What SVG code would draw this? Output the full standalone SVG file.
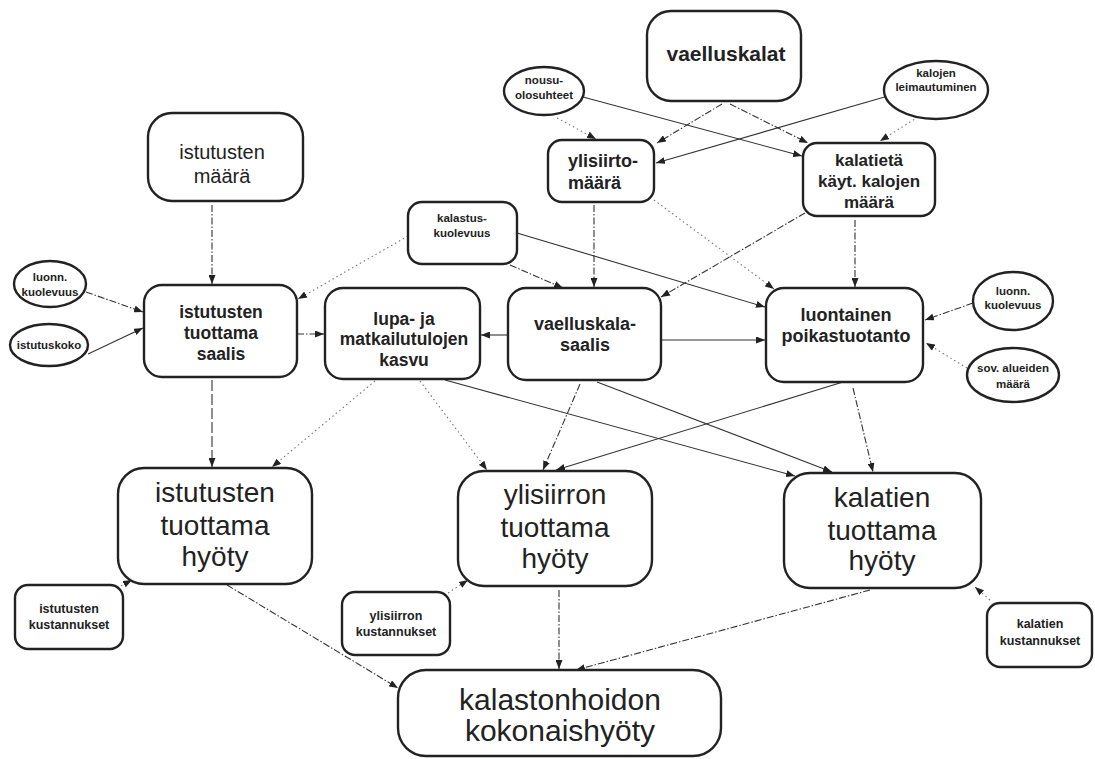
<svg xmlns="http://www.w3.org/2000/svg" width="1095" height="759" viewBox="0 0 1095 759">
<defs>
<marker id="ah" markerWidth="9" markerHeight="7" refX="9" refY="3.5" orient="auto" markerUnits="userSpaceOnUse">
<path d="M0,0 L9,3.5 L0,7 z" fill="#222"/>
</marker>
<style>
.box{fill:#fff;stroke:#222;stroke-width:2.4}
.t{font-family:"Liberation Sans",Arial,sans-serif;fill:#222;text-anchor:middle}
.b{font-weight:bold}
.c{fill:none;stroke:#333;stroke-width:1.1;marker-end:url(#ah)}
.dd{stroke-dasharray:7 2 1.5 2}
.dt{stroke:#777;stroke-dasharray:1.5 3}
.ld{stroke-dasharray:11 3}
</style>
</defs>
<rect width="1095" height="759" fill="#fff"/>

<g id="connectors">
<path class="c dd" d="M212,205 L212,284"/>
<path class="c dd" d="M86,292 L143,312"/>
<path class="c" d="M88,354 L143,328"/>
<path class="c dd" d="M297,334 L324,334"/>
<path class="c dt" d="M408,236 L298,299"/>
<path class="c dd" d="M510,265 L563,288"/>
<path class="c dd" d="M594,205 L594,287"/>
<path class="c" d="M517,233 L765,307"/>
<path class="c" d="M661,340 L765,340"/>
<path class="c" d="M508,335 L481,335"/>
<path class="c dd" d="M805,213 L661,297"/>
<path class="c dd" d="M855,220 L855,287"/>
<path class="c dt" d="M654,200 L774,289"/>
<path class="c dd" d="M973,303 L925,320"/>
<path class="c dt" d="M967,368 L926,343"/>
<path class="c dt" d="M557,118 L596,139"/>
<path class="c" d="M583,97 L802,156"/>
<path class="c dd" d="M722,104 L657,143"/>
<path class="c dd" d="M730,104 L808,143"/>
<path class="c" d="M888,96 L656,163"/>
<path class="c dt" d="M918,117 L880,141"/>
<path class="c ld" d="M212,380 L212,467"/>
<path class="c dt" d="M375,381 L272,467"/>
<path class="c" d="M445,380 L795,476"/>
<path class="c" d="M597,382 L832,472"/>
<path class="c dd" d="M580,384 L543,470"/>
<path class="c" d="M843,382 L556,470"/>
<path class="c dd" d="M853,388 L873,472"/>
<path class="c dt" d="M420,381 L487,470"/>
<path class="c dt" d="M117,588 L132,580"/>
<path class="c dt" d="M448,593 L468,580"/>
<path class="c dt" d="M990,600 L975,587"/>
<path class="c dd" d="M227,585 L398,688"/>
<path class="c dd" d="M559,590 L559,669"/>
<path class="c dd" d="M870,590 L576,670"/>
</g>

<g id="vaelluskalat">
<rect class="box" x="647" y="11" width="154" height="90" rx="24"/>
<text class="t b" x="726" y="61" font-size="21">vaelluskalat</text>
</g>
<g id="nousuolosuhteet">
<ellipse class="box" cx="544" cy="91" rx="40" ry="24"/>
<text class="t b" x="544" y="84" font-size="11.5">nousu-</text>
<text class="t b" x="544" y="99" font-size="11.5">olosuhteet</text>
</g>
<g id="kalojenleimautuminen">
<ellipse class="box" cx="936" cy="90" rx="52" ry="29"/>
<text class="t b" x="936" y="77" font-size="11.5">kalojen</text>
<text class="t b" x="936" y="91" font-size="11.5">leimautuminen</text>
</g>
<g id="ylisiirtomaara">
<rect class="box" x="548" y="140" width="106" height="62" rx="14"/>
<text class="t b" x="568" y="167" font-size="18" style="text-anchor:start">ylisiirto-</text>
<text class="t b" x="568" y="189" font-size="18" style="text-anchor:start">määrä</text>
</g>
<g id="kalatieta">
<rect class="box" x="803" y="143" width="132" height="73" rx="14"/>
<text class="t b" x="869" y="166" font-size="17">kalatietä</text>
<text class="t b" x="869" y="187" font-size="17">käyt. kalojen</text>
<text class="t b" x="869" y="208" font-size="17">määrä</text>
</g>
<g id="istutustenmaara">
<rect class="box" x="148" y="113" width="155" height="88" rx="24"/>
<text class="t" x="222" y="159" font-size="20">istutusten</text>
<text class="t" x="222" y="183" font-size="20">määrä</text>
</g>
<g id="kalastuskuolevuus">
<rect class="box" x="408" y="202" width="109" height="62" rx="14"/>
<text class="t b" x="462" y="222" font-size="11.5">kalastus-</text>
<text class="t b" x="462" y="237" font-size="11.5">kuolevuus</text>
</g>
<g id="luonnkuolevuus1">
<ellipse class="box" cx="50" cy="284" rx="36" ry="23"/>
<text class="t b" x="50" y="281" font-size="11.5">luonn.</text>
<text class="t b" x="50" y="296" font-size="11.5">kuolevuus</text>
</g>
<g id="istutuskoko">
<ellipse class="box" cx="49" cy="345" rx="39" ry="21"/>
<text class="t b" x="49" y="349" font-size="11.5">istutuskoko</text>
</g>
<g id="istutustensaalis">
<rect class="box" x="144" y="285" width="153" height="92" rx="18"/>
<text class="t b" x="221" y="318" font-size="17.5">istutusten</text>
<text class="t b" x="221" y="339" font-size="17.5">tuottama</text>
<text class="t b" x="221" y="360" font-size="17.5">saalis</text>
</g>
<g id="lupatulot">
<rect class="box" x="325" y="288" width="155" height="91" rx="18"/>
<text class="t b" x="404" y="325" font-size="17.5">lupa- ja</text>
<text class="t b" x="404" y="345" font-size="17.5">matkailutulojen</text>
<text class="t b" x="404" y="366" font-size="17.5">kasvu</text>
</g>
<g id="vaelluskalasaalis">
<rect class="box" x="508" y="288" width="153" height="92" rx="18"/>
<text class="t b" x="585" y="330" font-size="18">vaelluskala-</text>
<text class="t b" x="585" y="351" font-size="18">saalis</text>
</g>
<g id="luontainen">
<rect class="box" x="766" y="288" width="157" height="94" rx="18"/>
<text class="t b" x="846" y="321" font-size="18">luontainen</text>
<text class="t b" x="846" y="342" font-size="18">poikastuotanto</text>
</g>
<g id="luonnkuolevuus2">
<ellipse class="box" cx="1013" cy="301" rx="40" ry="29"/>
<text class="t b" x="1013" y="295" font-size="11.5">luonn.</text>
<text class="t b" x="1013" y="309" font-size="11.5">kuolevuus</text>
</g>
<g id="sovalueet">
<ellipse class="box" cx="1013" cy="375" rx="46" ry="27"/>
<text class="t b" x="1013" y="372" font-size="11.5">sov. alueiden</text>
<text class="t b" x="1013" y="388" font-size="11.5">määrä</text>
</g>
<g id="istutustenhyoty">
<rect class="box" x="118" y="468" width="194" height="116" rx="26"/>
<text class="t" x="215" y="502" font-size="28">istutusten</text>
<text class="t" x="215" y="535" font-size="28">tuottama</text>
<text class="t" x="215" y="566" font-size="28">hyöty</text>
</g>
<g id="istutustenkustannukset">
<rect class="box" x="15" y="585" width="108" height="64" rx="13"/>
<text class="t b" x="69" y="613" font-size="12.5">istutusten</text>
<text class="t b" x="69" y="629" font-size="12.5">kustannukset</text>
</g>
<g id="ylisiirronhyoty">
<rect class="box" x="458" y="471" width="194" height="115" rx="26"/>
<text class="t" x="555" y="504" font-size="28">ylisiirron</text>
<text class="t" x="555" y="537" font-size="28">tuottama</text>
<text class="t" x="555" y="568" font-size="28">hyöty</text>
</g>
<g id="ylisiirronkustannukset">
<rect class="box" x="342" y="592" width="108" height="63" rx="13"/>
<text class="t b" x="396" y="620" font-size="12.5">ylisiirron</text>
<text class="t b" x="396" y="636" font-size="12.5">kustannukset</text>
</g>
<g id="kalatienhyoty">
<rect class="box" x="784" y="473" width="197" height="115" rx="26"/>
<text class="t" x="882" y="507" font-size="28">kalatien</text>
<text class="t" x="882" y="540" font-size="28">tuottama</text>
<text class="t" x="882" y="570" font-size="28">hyöty</text>
</g>
<g id="kalatienkustannukset">
<rect class="box" x="987" y="603" width="105" height="64" rx="13"/>
<text class="t b" x="1040" y="628" font-size="12.5">kalatien</text>
<text class="t b" x="1040" y="645" font-size="12.5">kustannukset</text>
</g>
<g id="kokonaishyoty">
<rect class="box" x="398" y="670" width="323" height="86" rx="28"/>
<text class="t" x="560" y="710" font-size="30">kalastonhoidon</text>
<text class="t" x="560" y="741" font-size="30">kokonaishyöty</text>
</g>
</svg>
